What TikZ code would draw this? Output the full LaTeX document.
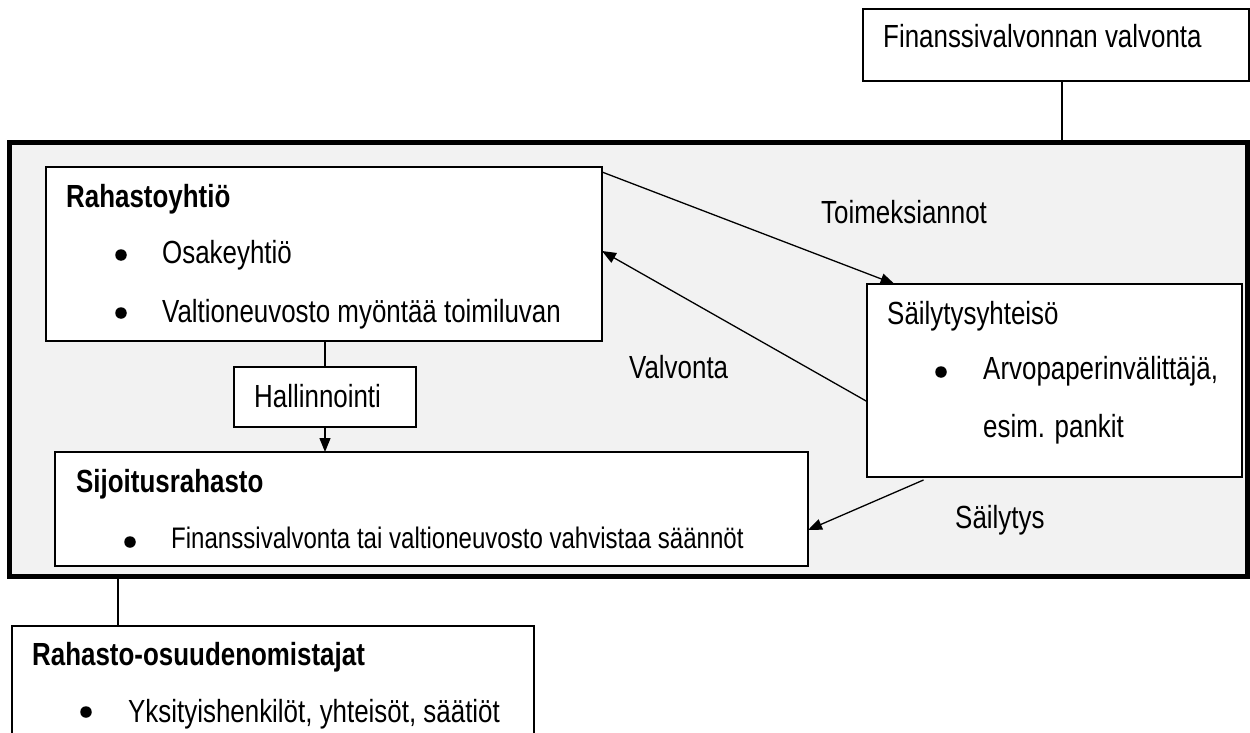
\documentclass[tikz,border=0pt]{standalone}
\usepackage{fontspec}
\setmainfont{Liberation Sans}[FakeStretch=0.81]
\usetikzlibrary{arrows.meta,calc}
\definecolor{framefill}{HTML}{F2F2F2}
\begin{document}
\begin{tikzpicture}[x=1pt,y=-1pt,
  box/.style={draw=black,line width=1.3pt,fill=white,rectangle,inner sep=0,outer sep=0},
  txt/.style={anchor=base west,inner sep=0,font=\fontsize{32}{38}\selectfont},
  btxt/.style={anchor=base west,inner sep=0,font=\fontsize{32}{38}\selectfont\bfseries},
  stxt/.style={anchor=base west,inner sep=0,font=\fontsize{29.7}{35}\selectfont},
  bul/.style={circle,fill=black,inner sep=0,minimum size=11.5pt},
  conn/.style={line width=1.3pt},
  arr/.style={conn,-{Triangle[length=14pt,width=11pt]}}]
\useasboundingbox (0,0) rectangle (1250,733);
\clip (0,0) rectangle (1250,733);

% outer frame
\node[draw=black,line width=5pt,fill=framefill,rectangle,inner sep=0,outer sep=0,
  minimum width=1237.5pt,minimum height=433pt] (frame) at (628.25,359.5) {};

% top box
\node[box,minimum width=386pt,minimum height=72pt] (fin) at (1056,45) {};
\node[txt] (fint) at (883,48) {Finanssivalvonnan valvonta};
\coordinate (finx) at (1062,0);
\draw[conn] (fin.south -| finx) -- (frame.north -| finx);

% Rahastoyhtio
\node[box,minimum width=556pt,minimum height=174pt] (rah) at (324,254) {};
\node[btxt] (raht) at (66,207) {Rahastoyhtiö};
\node[bul] (rb1) at (121,255) {};
\node[txt] (rt1) at (162,263) {Osakeyhtiö};
\node[bul] (rb2) at (121,313) {};
\node[txt] (rt2) at (162,322) {Valtioneuvosto myöntää toimiluvan};

% Hallinnointi
\node[box,minimum width=182pt,minimum height=60pt] (hal) at (325,397) {};
\node[txt] (halt) at (254,407) {Hallinnointi};
\draw[conn] (hal.north |- rah.south) -- (hal.north);

% Sijoitusrahasto
\node[box,minimum width=753pt,minimum height=114pt] (sij) at (431.5,509) {};
\node[btxt] (sijt) at (76,492) {Sijoitusrahasto};
\node[bul] (sb1) at (130,542) {};
\node[stxt] (st1) at (171,548) {Finanssivalvonta tai valtioneuvosto vahvistaa säännöt};
\draw[arr] (hal.south) -- (hal.south |- sij.north);

% Sailytysyhteiso
\node[box,minimum width=375pt,minimum height=193pt] (sai) at (1054.5,380.5) {};
\node[txt] (sait) at (887,324) {Säilytysyhteisö};
\node[bul] (ab1) at (941,372) {};
\node[txt] (at1) at (983,379) {Arvopaperinvälittäjä,};
\node[txt] (at2) at (983,437) {esim. pankit};

% arrows between boxes
\draw[arr] ([yshift=-5pt]rah.north east) -- ([xshift=-160pt]sai.north);
\draw[arr] ([yshift=-21pt]sai.west) -- ([yshift=3pt]rah.east);
\draw[arr] ([xshift=-131pt,yshift=-3pt]sai.south) -- ([yshift=-21pt]sij.east);

\node[txt] (lab1) at (821,223) {Toimeksiannot};
\node[txt] (lab2) at (629,378) {Valvonta};
\node[txt] (lab3) at (955,528) {Säilytys};

% Rahasto-osuudenomistajat
\node[box,minimum width=522pt,minimum height=130pt] (ros) at (273,691) {};
\node[btxt] (rost) at (32,665) {Rahasto-osuudenomistajat};
\node[bul] (ob1) at (86,712) {};
\node[txt] (ot1) at (128,722) {Yksityishenkilöt, yhteisöt, säätiöt};
\coordinate (rosx) at (118,0);
\draw[conn] (frame.south -| rosx) -- (ros.north -| rosx);
\end{tikzpicture}
\end{document}
